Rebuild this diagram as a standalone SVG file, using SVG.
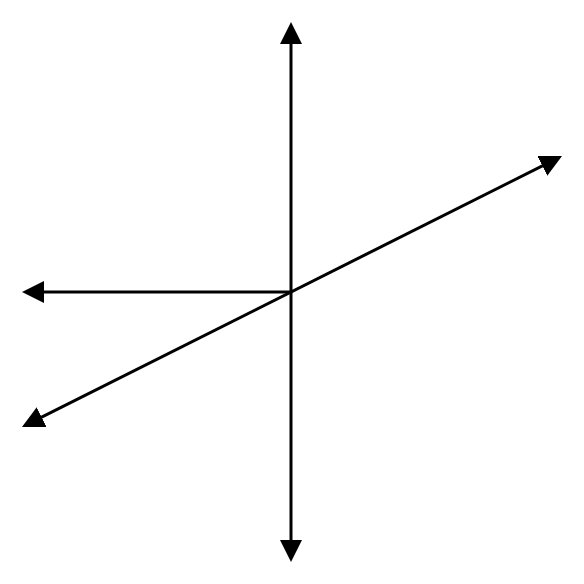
<svg xmlns="http://www.w3.org/2000/svg" width="584" height="584" viewBox="0 0 584 584">
<style>
.c{stroke:#000;stroke-width:3;fill:none;marker-end:url(#ah)}
.d{marker-start:url(#ah)}
</style>
<defs>
<marker id="ah" viewBox="0 0 22 22" markerWidth="22" markerHeight="22" markerUnits="userSpaceOnUse" refX="10" refY="11" orient="auto-start-reverse">
<path d="M0,0 L22,11 L0,22 z" fill="#000"/>
</marker>
</defs>
<rect width="584" height="584" fill="#fff"/>
<g id="connectors">
<line class="c d" x1="291" y1="550" x2="291" y2="34"/>
<line class="c" x1="291" y1="292" x2="34" y2="292"/>
<line class="c d" x1="551.3" y1="161.4" x2="32.7" y2="421.6"/>
</g>
</svg>
